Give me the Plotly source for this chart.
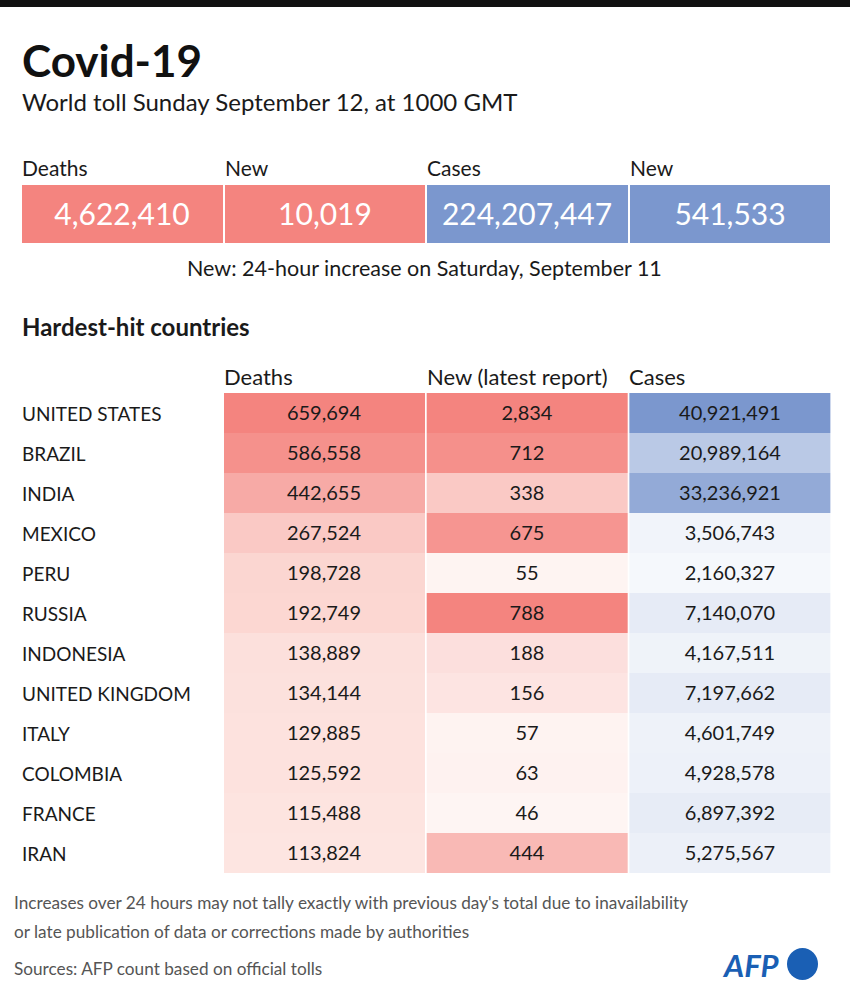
import plotly.graph_objects as go

# ---------------- data ----------------
world_labels = ["Deaths", "New", "Cases", "New"]
world_values = [4622410, 10019, 224207447, 541533]
world_group = [0, 0, 1, 1]  # 0 = deaths (red), 1 = cases (blue)

columns = ["Deaths", "New (latest report)", "Cases"]
countries = ["UNITED STATES", "BRAZIL", "INDIA", "MEXICO", "PERU", "RUSSIA",
             "INDONESIA", "UNITED KINGDOM", "ITALY", "COLOMBIA", "FRANCE", "IRAN"]
deaths = [659694, 586558, 442655, 267524, 198728, 192749,
          138889, 134144, 129885, 125592, 115488, 113824]
new_deaths = [2834, 712, 338, 675, 55, 788, 188, 156, 57, 63, 46, 444]
cases = [40921491, 20989164, 33236921, 3506743, 2160327, 7140070,
         4167511, 7197662, 4601749, 4928578, 6897392, 5275567]

# ---------------- styling ----------------
W, H = 850, 1000
FONT = "Source Sans Pro, Lato, Noto Sans, sans-serif"
RED = "#f4847f"
BLUE = "#7b97ce"
TXT = "#1a1a1a"


def px_x(p):
    return p / W


def px_y(p):
    return 1 - p / H


fig = go.Figure()

# Table heatmaps, one per column with its own scale
col_specs = [
    (deaths, 100000, 660000, [[0, "#fde7e3"], [1, RED]]),
    (new_deaths, 46, 790, [[0, "#fef5f3"], [1, RED]]),
    (cases, 2000000, 41000000, [[0, "#f6f8fc"], [1, BLUE]]),
]
for i, (vals, lo, hi, cs) in enumerate(col_specs):
    fig.add_trace(go.Heatmap(
        x=[i], y=countries, z=[[v] for v in vals],
        zmin=lo, zmax=hi, colorscale=cs, showscale=False,
        xgap=2, ygap=0,
        texttemplate="%{z:,}", textfont=dict(family=FONT, size=20, color=TXT),
        hoverinfo="skip", xaxis="x", yaxis="y",
    ))

# World summary boxes
fig.add_trace(go.Heatmap(
    x=list(range(len(world_values))), y=[0], z=[world_group],
    zmin=0, zmax=1, colorscale=[[0, RED], [1, BLUE]], showscale=False,
    xgap=2, text=[[f"{v:,}" for v in world_values]], texttemplate="%{text}",
    textfont=dict(family=FONT, size=30, color="white"),
    hoverinfo="skip", xaxis="x2", yaxis="y2",
))

ann = []
# world labels
for i, lab in enumerate(world_labels):
    ann.append(dict(xref="x2", yref="paper", x=i - 0.5, y=px_y(167), text=lab,
                    xanchor="left", yanchor="middle", showarrow=False, xshift=-1,
                    font=dict(family=FONT, size=21, color=TXT)))
# table column headers
for i, lab in enumerate(columns):
    ann.append(dict(xref="x", yref="paper", x=i - 0.5, y=px_y(376), text=lab,
                    xanchor="left", yanchor="middle", showarrow=False, xshift=-1,
                    font=dict(family=FONT, size=22, color=TXT)))
# country labels
for c in countries:
    ann.append(dict(xref="paper", yref="y", x=px_x(20), y=c, text=c,
                    xanchor="left", yanchor="middle", showarrow=False,
                    font=dict(family=FONT, size=19, color=TXT)))

texts = [
    ("<b>Covid-19</b>", 20, 60, 44, "#111", "left"),
    ("World toll Sunday September 12, at 1000 GMT", 20, 102, 24, TXT, "left"),
    ("New: 24-hour increase on Saturday, September 11", 424, 268, 21.5, TXT, "center"),
    ("<b>Hardest-hit countries</b>", 20, 326, 24, TXT, "left"),
    ("Increases over 24 hours may not tally exactly with previous day's total due to inavailability",
     12, 902, 17.2, "#555", "left"),
    ("or late publication of data or corrections made by authorities", 12, 931, 17.2, "#555", "left"),
    ("Sources: AFP count based on official tolls", 12, 968, 17.2, "#555", "left"),
    ("<b><i>AFP</i></b>", 720, 965, 31, "#1a5fb4", "left"),
]
for t, x, y, s, col, anc in texts:
    ann.append(dict(xref="paper", yref="paper", x=px_x(x), y=px_y(y), text=t,
                    xanchor=anc, yanchor="middle", showarrow=False,
                    font=dict(family=FONT, size=s, color=col)))

shapes = [
    dict(type="rect", xref="paper", yref="paper", x0=0, x1=1, y0=px_y(7), y1=1,
         fillcolor="#111", line=dict(width=0)),
    dict(type="circle", xref="paper", yref="paper", x0=px_x(787), x1=px_x(818),
         y0=px_y(980), y1=px_y(948), fillcolor="#1a5fb4", line=dict(width=0)),
]

fig.update_layout(
    width=W, height=H, margin=dict(l=0, r=0, t=0, b=0),
    paper_bgcolor="white", plot_bgcolor="white",
    font=dict(family=FONT),
    xaxis=dict(domain=[px_x(223), px_x(831)], range=[-0.5, 2.5], visible=False, fixedrange=True),
    yaxis=dict(domain=[px_y(873), px_y(393)], autorange="reversed", visible=False,
               type="category", fixedrange=True),
    xaxis2=dict(domain=[px_x(21), px_x(831)], range=[-0.5, 3.5], visible=False,
                anchor="y2", fixedrange=True),
    yaxis2=dict(domain=[px_y(243), px_y(185)], range=[-0.5, 0.5], visible=False,
                anchor="x2", fixedrange=True),
    annotations=ann, shapes=shapes, showlegend=False,
)

fig.write_html("out.html", config={"displayModeBar": False},
               post_script="document.body.style.margin='0px';")
